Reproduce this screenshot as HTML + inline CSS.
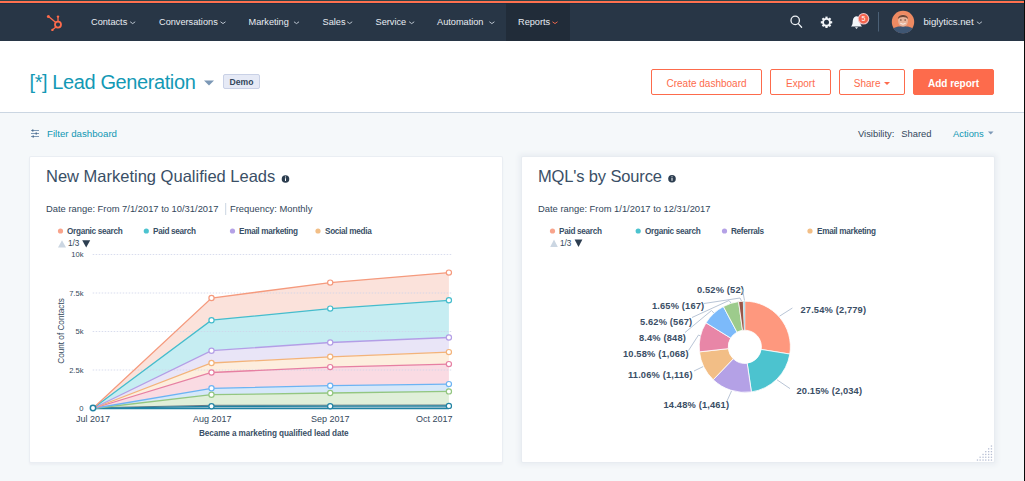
<!DOCTYPE html>
<html><head><meta charset="utf-8">
<style>
*{box-sizing:border-box;margin:0;padding:0}
html,body{width:1025px;height:481px;overflow:hidden}
body{position:relative;background:#f5f8fa;font-family:"Liberation Sans",sans-serif;color:#33475b}
.a{position:absolute;white-space:nowrap}
#row0{left:0;top:0;width:1025px;height:1px;background:#2f4548}
#orange{left:0;top:1px;width:1025px;height:2px;background:#ff714f}
#nav{left:0;top:3px;width:1025px;height:38px;background:#283646}
#row3{left:0;top:3px;width:1025px;height:1px;background:#1c3044}
#rep{left:506px;top:3px;width:64px;height:38px;background:#212c39}
.nv{top:16px;font-size:9.2px;line-height:12px;color:#e8edf3}
.chev{position:absolute;top:20px;width:5px;height:3px}
#hdr{left:0;top:41px;width:1024px;height:72px;background:#fff;border-bottom:1px solid #cbd6e2}
#blk{left:1024px;top:0;width:1px;height:481px;background:#0a0a0a}
.btn{top:69px;height:26px;border:1px solid #fd6b4c;border-radius:2px;background:#fff;color:#fd6b4c;font-size:10px;line-height:27px;text-align:center}
.card{top:157px;width:472px;height:305px;background:#fff;border-radius:1px;box-shadow:0 0 0 1px #eaeef3,0 2px 2px 1px #edf0f4}
.ttl{font-size:16.5px;line-height:20px;color:#3a4f66}
.dr{font-size:9.4px;line-height:12px;color:#33475b}
.lg{font-size:8.2px;line-height:11px;font-weight:bold;color:#3a4f66;letter-spacing:-.3px}
.dot{position:absolute;width:5px;height:5px;border-radius:50%}
.tick{font-size:7.6px;line-height:9px;color:#33475b}
.xl{font-size:9px;line-height:12px;color:#33475b}
.pl{font-size:9.3px;line-height:12.8px;color:#3a4e65;font-weight:bold;letter-spacing:.15px}
</style></head><body>
<div class="a" id="row0"></div>
<div class="a" id="orange"></div>
<div class="a" id="nav"></div>
<div class="a" id="row3"></div>
<div class="a" id="rep"></div>

<!-- logo -->
<svg class="a" style="left:44px;top:13px" width="20" height="20" viewBox="0 0 20 20">
 <g fill="none" stroke="#fd6b4c" stroke-width="1.8">
  <circle cx="14" cy="11.6" r="3"/>
 </g>
 <g stroke="#fd6b4c" stroke-width="1.3">
  <line x1="14" y1="8.6" x2="14" y2="4"/>
  <line x1="11.8" y1="9.6" x2="5.2" y2="3.9"/>
  <line x1="12" y1="13.9" x2="8.8" y2="16.6"/>
 </g>
 <circle cx="4.4" cy="3.4" r="1.5" fill="#fd6b4c"/>
 <circle cx="14" cy="3.6" r="1.2" fill="#fd6b4c"/>
 <circle cx="8.4" cy="16.9" r="1.2" fill="#fd6b4c"/>
</svg>

<div class="a nv" style="left:91px">Contacts</div>
<div class="a nv" style="left:159px">Conversations</div>
<div class="a nv" style="left:248.5px">Marketing</div>
<div class="a nv" style="left:322.5px">Sales</div>
<div class="a nv" style="left:375.5px">Service</div>
<div class="a nv" style="left:437px">Automation</div>
<div class="a nv" style="left:518px">Reports</div>
<svg class="a" style="left:0;top:0" width="1025" height="41">
 <g fill="none" stroke="#d3dce6" stroke-width="0.85" stroke-linecap="round"><path d="M130.5 22 l2.2 1.6 l2.2 -1.6"/><path d="M220.8 22 l2.2 1.6 l2.2 -1.6"/><path d="M294.3 22 l2.2 1.6 l2.2 -1.6"/><path d="M347.5 22 l2.2 1.6 l2.2 -1.6"/><path d="M409.5 22 l2.2 1.6 l2.2 -1.6"/><path d="M489.7 22 l2.2 1.6 l2.2 -1.6"/><path d="M977.2 22 l2.2 1.6 l2.2 -1.6"/></g>
 <path d="M552.8 22 l2.2 1.6 l2.2 -1.6" fill="none" stroke="#fd6b4c" stroke-width="0.9" stroke-linecap="round"/>
 <!-- search -->
 <g fill="none" stroke="#eef2f6" stroke-width="1.3" stroke-linecap="round">
  <circle cx="795.2" cy="20.4" r="4.2"/>
  <line x1="798.3" y1="23.6" x2="801.6" y2="27.2"/>
 </g>
 <!-- gear -->
 <g fill="#f3f6f9">
  <circle cx="826.5" cy="22.3" r="4.4"/>
  <g stroke="#f3f6f9" stroke-width="2.2">
   <line x1="826.5" y1="16.6" x2="826.5" y2="28"/>
   <line x1="820.8" y1="22.3" x2="832.2" y2="22.3"/>
   <line x1="822.5" y1="18.3" x2="830.5" y2="26.3"/>
   <line x1="830.5" y1="18.3" x2="822.5" y2="26.3"/>
  </g>
 </g>
 <circle cx="826.5" cy="22.3" r="2.5" fill="#283646"/>
 <!-- bell -->
 <path d="M851 26.5 C852.8 25.2 852.6 22.5 852.8 20.6 C853.2 17.6 855 16.3 856.5 16.3 C858 16.3 859.8 17.6 860.2 20.6 C860.4 22.5 860.2 25.2 862 26.5 Z" fill="#f3f6f9"/>
 <path d="M855 27.2 L858 27.2 L856.5 29 Z" fill="#f3f6f9"/>
 <circle cx="863.5" cy="18.8" r="5.8" fill="#f2c3c6"/>
 <circle cx="863.5" cy="18.8" r="4.7" fill="#f6654e"/>
 <text x="863.5" y="21.4" font-size="7" fill="#fff" text-anchor="middle" font-family="Liberation Sans">5</text>
 <line x1="878.5" y1="12" x2="878.5" y2="31.5" stroke="#4b6076" stroke-width="1"/>
 <!-- avatar -->
 <circle cx="903" cy="22" r="11.2" fill="#ee8a62"/>
 <path d="M893.5 28.5 C896 25.5 910 25.5 912.5 28.5 L911 30.5 C907 34.5 899 34.5 895 30.5Z" fill="#3f5673"/>
 <ellipse cx="903" cy="20.6" rx="5" ry="6.2" fill="#e8b39a"/>
 <path d="M897.9 19 C898 13.6 908 13.6 908.1 19 C906.5 16.2 899.5 16.2 897.9 19Z" fill="#6e4535"/>
 <rect x="900" y="19.5" width="1.6" height="1" fill="#5a3a30"/><rect x="904.4" y="19.5" width="1.6" height="1" fill="#5a3a30"/>
 <path d="M900.3 23.3 Q903 25.2 905.7 23.3" fill="none" stroke="#fff" stroke-width="0.8"/>
</svg>
<div class="a nv" style="left:923.5px;font-size:9.6px;top:16.4px">biglytics.net</div>

<div class="a" id="hdr"></div>
<div class="a" id="blk"></div>

<!-- header -->
<div class="a" style="left:29.5px;top:71px;font-size:20px;line-height:22px;color:#1399b5;letter-spacing:-.4px">[*] Lead Generation</div>
<svg class="a" style="left:203px;top:79px" width="13" height="8"><path d="M1 1.5 L11 1.5 L6 6.5 Z" fill="#7c98b6"/></svg>
<div class="a" style="left:223px;top:74px;width:37px;height:15px;background:#e6eaf6;border:1px solid #c9d1e6;border-radius:2px;font-size:8.6px;font-weight:bold;line-height:15px;text-align:center;color:#33475b">Demo</div>

<div class="a btn" style="left:651px;width:111px">Create dashboard</div>
<div class="a btn" style="left:770px;width:61px">Export</div>
<div class="a btn" style="left:839px;width:66px">Share <span style="display:inline-block;width:0;height:0;border-left:3px solid transparent;border-right:3px solid transparent;border-top:3.5px solid #fd6b4c;vertical-align:2px;margin-left:1px"></span></div>
<div class="a btn" style="left:913px;width:81px;background:#fd6b4c;color:#fff;font-weight:bold">Add report</div>

<!-- filter row -->
<svg class="a" style="left:30px;top:129px" width="10" height="9">
 <g stroke="#7c98b6" stroke-width="1"><line x1="1" y1="1.5" x2="9" y2="1.5"/><line x1="1" y1="4.5" x2="9" y2="4.5"/><line x1="1" y1="7.5" x2="9" y2="7.5"/></g>
 <g fill="#516f90"><rect x="2" y="0.5" width="1.5" height="2"/><rect x="5.5" y="3.5" width="1.5" height="2"/><rect x="2.5" y="6.5" width="1.5" height="2"/></g>
</svg>
<div class="a" style="left:47px;top:127.5px;font-size:9.7px;line-height:12px;color:#0f97b3">Filter dashboard</div>
<div class="a" style="left:858px;top:127.5px;font-size:9.4px;line-height:12px;color:#33475b">Visibility:</div><div class="a" style="left:901.3px;top:127.5px;font-size:9.4px;line-height:12px;color:#33475b">Shared</div>
<div class="a" style="left:953px;top:127.5px;font-size:9.4px;line-height:12px;color:#0f97b3">Actions</div>
<svg class="a" style="left:988px;top:131px" width="6" height="4"><path d="M0 0.5 L5.5 0.5 L2.75 3.5Z" fill="#7c98b6"/></svg>

<!-- cards -->
<div class="a card" style="left:30px"></div>
<div class="a card" style="left:522px;box-shadow:0 0 0 1px #e8ecf1,0 0 5px 3px #e9edf2"></div>


<!-- left card content -->
<div class="a ttl" style="left:46px;top:166px">New Marketing Qualified Leads</div>
<div class="a dr" style="left:46px;top:203px">Date range: From 7/1/2017 to 10/31/2017</div>
<div class="a dr" style="left:230px;top:203px">Frequency: Monthly</div>
<div class="a lg" style="left:67px;top:226px">Organic search</div>
<div class="a lg" style="left:153px;top:226px">Paid search</div>
<div class="a lg" style="left:239px;top:226px">Email marketing</div>
<div class="a lg" style="left:325px;top:226px">Social media</div>
<div class="a tick" style="left:68px;top:239px;font-size:8.2px;color:#33475b">1/3</div>
<div class="a tick" style="left:40px;width:43.5px;text-align:right;top:250px">10k</div>
<div class="a tick" style="left:40px;width:43.5px;text-align:right;top:288.5px">7.5k</div>
<div class="a tick" style="left:40px;width:43.5px;text-align:right;top:327px">5k</div>
<div class="a tick" style="left:40px;width:43.5px;text-align:right;top:365.5px">2.5k</div>
<div class="a tick" style="left:40px;width:43.5px;text-align:right;top:404px">0</div>
<div class="a tick" style="left:56px;top:326px;font-size:8.2px;transform:translate(-50%,-50%) rotate(-90deg);transform-origin:50% 50%;left:61px;top:330.5px">Count of Contacts</div>
<div class="a xl" style="left:76px;top:413px">Jul 2017</div>
<div class="a xl" style="left:193px;top:413px">Aug 2017</div>
<div class="a xl" style="left:311px;top:413px">Sep 2017</div>
<div class="a xl" style="left:416px;top:413px">Oct 2017</div>
<div class="a lg" style="left:199px;top:428px;letter-spacing:-.1px;font-size:8.2px">Became a marketing qualified lead date</div>

<!-- right card content -->
<div class="a ttl" style="left:538px;top:166px;letter-spacing:-.15px">MQL's by Source</div>
<div class="a dr" style="left:538px;top:203px">Date range: From 1/1/2017 to 12/31/2017</div>
<div class="a lg" style="left:559px;top:226px">Paid search</div>
<div class="a lg" style="left:645px;top:226px">Organic search</div>
<div class="a lg" style="left:731px;top:226px">Referrals</div>
<div class="a lg" style="left:817px;top:226px">Email marketing</div>
<div class="a tick" style="left:560px;top:239px;font-size:8.2px;color:#33475b">1/3</div>
<div class="a pl" style="left:697px;top:284px">0.52% (52)</div>
<div class="a pl" style="left:652px;top:300px">1.65% (167)</div>
<div class="a pl" style="left:640px;top:316px">5.62% (567)</div>
<div class="a pl" style="left:639px;top:332px">8.4% (848)</div>
<div class="a pl" style="left:623px;top:348px">10.58% (1,068)</div>
<div class="a pl" style="left:628px;top:369px">11.06% (1,116)</div>
<div class="a pl" style="left:663.5px;top:399px">14.48% (1,461)</div>
<div class="a pl" style="left:800.5px;top:304px">27.54% (2,779)</div>
<div class="a pl" style="left:796.5px;top:385px">20.15% (2,034)</div>

<svg class="a" style="left:0;top:0" width="1025" height="481">
<line x1="225.7" y1="203" x2="225.7" y2="215" stroke="#cbd6e2" stroke-width="1"/>
<g fill="#2d3e50">
 <circle cx="285.5" cy="179" r="3.8"/><circle cx="672" cy="178.8" r="3.8"/>
</g>
<g fill="#fff"><rect x="285" y="178.2" width="1" height="2.8"/><rect x="285" y="176.5" width="1" height="1"/>
<rect x="671.5" y="178" width="1" height="2.8"/><rect x="671.5" y="176.3" width="1" height="1"/></g>
<circle cx="60.5" cy="231" r="2.6" fill="#f8a48c"/>
<circle cx="146.3" cy="231" r="2.6" fill="#4cc3cf"/>
<circle cx="232.5" cy="231" r="2.6" fill="#b4a1e6"/>
<circle cx="318" cy="231" r="2.6" fill="#f2be86"/>
<circle cx="552.5" cy="231" r="2.6" fill="#f8a48c"/>
<circle cx="638.2" cy="231" r="2.6" fill="#4cc3cf"/>
<circle cx="724.5" cy="231" r="2.6" fill="#b4a1e6"/>
<circle cx="810" cy="231" r="2.6" fill="#f2be86"/>
<path d="M58 247.4 L62 240.2 L66 247.4Z" fill="#cbd6e2"/>
<path d="M82.2 240.2 L90.2 240.2 L86.2 247.4Z" fill="#2d3e50"/>
<path d="M550.2 247 L554 239.6 L557.8 247Z" fill="#cbd6e2"/>
<path d="M574.6 239.6 L582.4 239.6 L578.5 247Z" fill="#2d3e50"/>
<path d="M92.8 408.5 L211.5 298.0 L330.2 282.6 L448.9 272.6 L448.9 300.3 L330.2 308.6 L211.5 320.2 L92.8 408.5 Z" fill="#fbe2db"/>
<path d="M92.8 408.5 L211.5 320.2 L330.2 308.6 L448.9 300.3 L448.9 337.5 L330.2 342.5 L211.5 350.7 L92.8 408.5 Z" fill="#c6edf2"/>
<path d="M92.8 408.5 L211.5 350.7 L330.2 342.5 L448.9 337.5 L448.9 352.1 L330.2 356.8 L211.5 363.0 L92.8 408.5 Z" fill="#e9e5f7"/>
<path d="M92.8 408.5 L211.5 363.0 L330.2 356.8 L448.9 352.1 L448.9 364.1 L330.2 367.1 L211.5 372.5 L92.8 408.5 Z" fill="#fdeede"/>
<path d="M92.8 408.5 L211.5 372.5 L330.2 367.1 L448.9 364.1 L448.9 384.1 L330.2 385.7 L211.5 388.3 L92.8 408.5 Z" fill="#fadbe3"/>
<path d="M92.8 408.5 L211.5 388.3 L330.2 385.7 L448.9 384.1 L448.9 391.4 L330.2 393.0 L211.5 394.7 L92.8 408.5 Z" fill="#d6e8f9"/>
<path d="M92.8 408.5 L211.5 394.7 L330.2 393.0 L448.9 391.4 L448.9 405.9 L330.2 406.2 L211.5 406.3 L92.8 408.3 Z" fill="#e0efd9"/>
<path d="M92.8 408.3 L211.5 406.3 L330.2 406.2 L448.9 405.9 L448.9 408.5 L330.2 408.5 L211.5 408.5 L92.8 408.5 Z" fill="#8fb9c9"/>
<g stroke="#cfd4ea" stroke-width="0.8" stroke-dasharray="1.5 1.5"><line x1="92.7" y1="254.5" x2="452" y2="254.5"/><line x1="92.7" y1="293.0" x2="452" y2="293.0"/><line x1="92.7" y1="331.5" x2="452" y2="331.5"/><line x1="92.7" y1="370.0" x2="452" y2="370.0"/></g>
<line x1="92.8" y1="408.6" x2="449" y2="408.6" stroke="#2183a3" stroke-width="1.4"/><polyline points="92.8,407.8 211.5,405.3 330.2,405.2 448.9,405" fill="none" stroke="#4d5d72" stroke-width="0.8"/>
<polyline points="92.8,408.3 211.5,406.3 330.2,406.2 448.9,405.9" fill="none" stroke="#2183a3" stroke-width="1.3"/>
<polyline points="92.8,408.5 211.5,394.7 330.2,393.0 448.9,391.4" fill="none" stroke="#93c681" stroke-width="1.3"/>
<polyline points="92.8,408.5 211.5,388.3 330.2,385.7 448.9,384.1" fill="none" stroke="#6cb3f3" stroke-width="1.3"/>
<polyline points="92.8,408.5 211.5,372.5 330.2,367.1 448.9,364.1" fill="none" stroke="#e67fa2" stroke-width="1.3"/>
<polyline points="92.8,408.5 211.5,363.0 330.2,356.8 448.9,352.1" fill="none" stroke="#f3b37a" stroke-width="1.3"/>
<polyline points="92.8,408.5 211.5,350.7 330.2,342.5 448.9,337.5" fill="none" stroke="#b39ee6" stroke-width="1.3"/>
<polyline points="92.8,408.5 211.5,320.2 330.2,308.6 448.9,300.3" fill="none" stroke="#45bccc" stroke-width="1.3"/>
<polyline points="92.8,408.5 211.5,298.0 330.2,282.6 448.9,272.6" fill="none" stroke="#f59a7d" stroke-width="1.3"/>
<circle cx="211.5" cy="298.0" r="2.6" fill="#fff" stroke="#f59a7d" stroke-width="1.2"/>
<circle cx="330.2" cy="282.6" r="2.6" fill="#fff" stroke="#f59a7d" stroke-width="1.2"/>
<circle cx="448.9" cy="272.6" r="2.6" fill="#fff" stroke="#f59a7d" stroke-width="1.2"/>
<circle cx="211.5" cy="320.2" r="2.6" fill="#fff" stroke="#45bccc" stroke-width="1.2"/>
<circle cx="330.2" cy="308.6" r="2.6" fill="#fff" stroke="#45bccc" stroke-width="1.2"/>
<circle cx="448.9" cy="300.3" r="2.6" fill="#fff" stroke="#45bccc" stroke-width="1.2"/>
<circle cx="211.5" cy="350.7" r="2.6" fill="#fff" stroke="#b39ee6" stroke-width="1.2"/>
<circle cx="330.2" cy="342.5" r="2.6" fill="#fff" stroke="#b39ee6" stroke-width="1.2"/>
<circle cx="448.9" cy="337.5" r="2.6" fill="#fff" stroke="#b39ee6" stroke-width="1.2"/>
<circle cx="211.5" cy="363.0" r="2.6" fill="#fff" stroke="#f3b37a" stroke-width="1.2"/>
<circle cx="330.2" cy="356.8" r="2.6" fill="#fff" stroke="#f3b37a" stroke-width="1.2"/>
<circle cx="448.9" cy="352.1" r="2.6" fill="#fff" stroke="#f3b37a" stroke-width="1.2"/>
<circle cx="211.5" cy="372.5" r="2.6" fill="#fff" stroke="#e67fa2" stroke-width="1.2"/>
<circle cx="330.2" cy="367.1" r="2.6" fill="#fff" stroke="#e67fa2" stroke-width="1.2"/>
<circle cx="448.9" cy="364.1" r="2.6" fill="#fff" stroke="#e67fa2" stroke-width="1.2"/>
<circle cx="211.5" cy="388.3" r="2.6" fill="#fff" stroke="#6cb3f3" stroke-width="1.2"/>
<circle cx="330.2" cy="385.7" r="2.6" fill="#fff" stroke="#6cb3f3" stroke-width="1.2"/>
<circle cx="448.9" cy="384.1" r="2.6" fill="#fff" stroke="#6cb3f3" stroke-width="1.2"/>
<circle cx="211.5" cy="394.7" r="2.6" fill="#fff" stroke="#93c681" stroke-width="1.2"/>
<circle cx="330.2" cy="393.0" r="2.6" fill="#fff" stroke="#93c681" stroke-width="1.2"/>
<circle cx="448.9" cy="391.4" r="2.6" fill="#fff" stroke="#93c681" stroke-width="1.2"/>
<circle cx="211.5" cy="406.3" r="2.6" fill="#fff" stroke="#2183a3" stroke-width="1.2"/>
<circle cx="330.2" cy="406.2" r="2.6" fill="#fff" stroke="#2183a3" stroke-width="1.2"/>
<circle cx="448.9" cy="405.9" r="2.6" fill="#fff" stroke="#2183a3" stroke-width="1.2"/>
<circle cx="93" cy="408" r="2.7" fill="#fff" stroke="#2183a3" stroke-width="1.5"/>
<path d="M744.80 301.20 A45.6 45.6 0 0 1 789.82 354.05 L761.19 349.44 A16.6 16.6 0 0 0 744.80 330.20 Z" fill="#fe987e" stroke="#fff" stroke-width="0.8"/>
<path d="M789.82 354.05 A45.6 45.6 0 0 1 751.40 391.92 L747.20 363.23 A16.6 16.6 0 0 0 761.19 349.44 Z" fill="#4cc3cf" stroke="#fff" stroke-width="0.8"/>
<path d="M751.40 391.92 A45.6 45.6 0 0 1 713.23 379.71 L733.31 358.78 A16.6 16.6 0 0 0 747.20 363.23 Z" fill="#b4a1e6" stroke="#fff" stroke-width="0.8"/>
<path d="M713.23 379.71 A45.6 45.6 0 0 1 699.48 351.86 L728.30 348.64 A16.6 16.6 0 0 0 733.31 358.78 Z" fill="#f2be86" stroke="#fff" stroke-width="0.8"/>
<path d="M699.48 351.86 A45.6 45.6 0 0 1 706.01 322.83 L730.68 338.07 A16.6 16.6 0 0 0 728.30 348.64 Z" fill="#e886a7" stroke="#fff" stroke-width="0.8"/>
<path d="M706.01 322.83 A45.6 45.6 0 0 1 723.36 306.55 L737.00 332.15 A16.6 16.6 0 0 0 730.68 338.07 Z" fill="#7cbafa" stroke="#fff" stroke-width="0.8"/>
<path d="M723.36 306.55 A45.6 45.6 0 0 1 738.60 301.62 L742.54 330.35 A16.6 16.6 0 0 0 737.00 332.15 Z" fill="#9dcb8c" stroke="#fff" stroke-width="0.8"/>
<path d="M738.60 301.62 A45.6 45.6 0 0 1 743.31 301.22 L744.26 330.21 A16.6 16.6 0 0 0 742.54 330.35 Z" fill="#9a5648" stroke="#fff" stroke-width="0.8"/>
<path d="M743.3 301.3 L745 301.2 L745 330.1 L744.3 330.1 Z" fill="#b3e2ef"/>
<g fill="none" stroke="#b9c5d6" stroke-width="1">
<polyline points="742.5,289.5 744.5,300.5"/>
<polyline points="704,303.5 740,298 741.5,301"/>
<polyline points="692,317.5 729,300.5 731,303"/>
<polyline points="685,332.5 711.5,310.5 713.8,313"/>
<polyline points="688.5,350.5 698.5,335 700.6,336"/>
<polyline points="694,371 703.1,366.6"/>
<polyline points="727,401 731.5,391"/>
<polyline points="777,379.8 790,388.6"/>
<polyline points="779.5,316.2 792.4,308"/>
</g>
<g fill="#b6bed3"><rect x="990.8" y="445.4" width="1.3" height="1.3"/><rect x="990.8" y="448.2" width="1.3" height="1.3"/><rect x="988.0" y="448.2" width="1.3" height="1.3"/><rect x="990.8" y="451.0" width="1.3" height="1.3"/><rect x="988.0" y="451.0" width="1.3" height="1.3"/><rect x="985.1" y="451.0" width="1.3" height="1.3"/><rect x="990.8" y="453.8" width="1.3" height="1.3"/><rect x="988.0" y="453.8" width="1.3" height="1.3"/><rect x="985.1" y="453.8" width="1.3" height="1.3"/><rect x="982.4" y="453.8" width="1.3" height="1.3"/><rect x="990.8" y="456.6" width="1.3" height="1.3"/><rect x="988.0" y="456.6" width="1.3" height="1.3"/><rect x="985.1" y="456.6" width="1.3" height="1.3"/><rect x="982.4" y="456.6" width="1.3" height="1.3"/><rect x="979.5" y="456.6" width="1.3" height="1.3"/><rect x="990.8" y="459.4" width="1.3" height="1.3"/><rect x="988.0" y="459.4" width="1.3" height="1.3"/><rect x="985.1" y="459.4" width="1.3" height="1.3"/><rect x="982.4" y="459.4" width="1.3" height="1.3"/><rect x="979.5" y="459.4" width="1.3" height="1.3"/><rect x="976.8" y="459.4" width="1.3" height="1.3"/></g>
</svg>
</body></html>
